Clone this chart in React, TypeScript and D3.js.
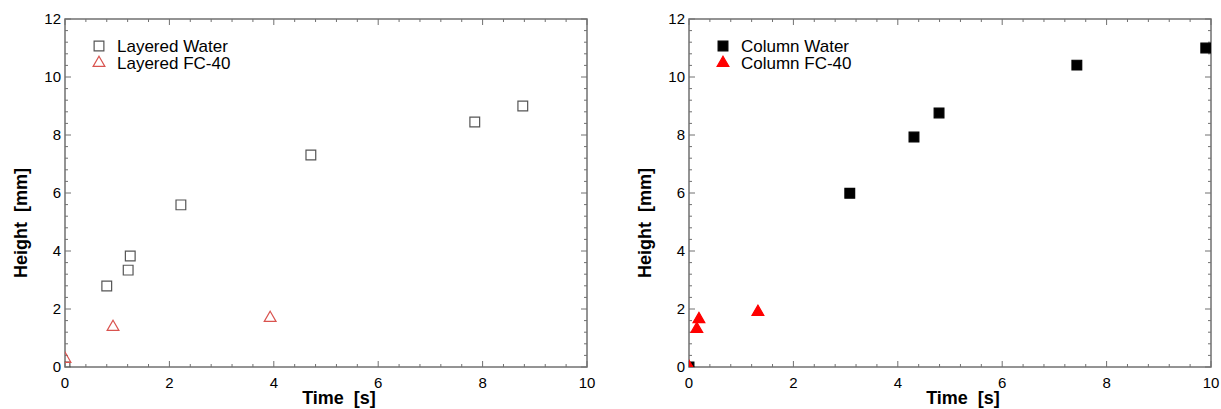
import React from 'react'
import * as d3 from 'd3'

// Layered
const layeredWaterTime = [0, 0.8, 1.21, 1.25, 2.22, 4.71, 7.85, 8.77]
const layeredWaterHeight = [0, 2.79, 3.34, 3.83, 5.59, 7.31, 8.45, 9.0]
const layeredFcTime = [0, 0.92, 3.93]
const layeredFcHeight = [0.28, 1.38, 1.69]

// Column
const columnWaterTime = [0, 3.08, 4.31, 4.79, 7.43, 9.9]
const columnWaterHeight = [0, 5.99, 7.93, 8.76, 10.41, 11.0]
const columnFcTime = [0, 0.15, 0.19, 1.32]
const columnFcHeight = [0, 1.31, 1.65, 1.9]

const xTicks = [0, 2, 4, 6, 8, 10]
const yTicks = [0, 2, 4, 6, 8, 10, 12]

const W = 1221,
  H = 409
const plotW = 522,
  top = 19,
  bottom = 367
const font = 'Arial, "Liberation Sans", sans-serif'
const frameColor = '#707070'

const zip = (xs, ys) => xs.map((x, i) => ({ x, y: ys[i] }))

const Panel = ({ left, id, series, legend }) => {
  const x = d3.scaleLinear().domain([0, 10]).range([left, left + plotW])
  const y = d3.scaleLinear().domain([0, 12]).range([bottom, top])
  const minorX = d3.range(0, 10.001, 0.4)
  const minorY = d3.range(0, 12.001, 0.4)
  const sq = d3.symbol().type(d3.symbolSquare).size(95)()
  const tri = d3.symbol().type(d3.symbolTriangle).size(60)()

  const marker = (s, key, tx, ty) => (
    <path
      key={key}
      d={s.shape === 'square' ? sq : tri}
      transform={`translate(${tx},${ty})`}
      fill={s.fill}
      stroke={s.stroke}
      strokeWidth={1.2}
    />
  )

  return (
    <g>
      <defs>
        <clipPath id={id}>
          <rect x={left} y={top} width={plotW} height={bottom - top} />
        </clipPath>
      </defs>

      {/* ticks, all four sides, pointing inward */}
      <g stroke={frameColor} strokeWidth={1}>
        {minorX.map((d, i) => {
          const len = i % 5 === 0 ? 6 : 3
          return (
            <g key={'x' + i}>
              <line x1={x(d)} x2={x(d)} y1={bottom} y2={bottom - len} />
              <line x1={x(d)} x2={x(d)} y1={top} y2={top + len} />
            </g>
          )
        })}
        {minorY.map((d, i) => {
          const len = i % 5 === 0 ? 6 : 3
          return (
            <g key={'y' + i}>
              <line x1={left} x2={left + len} y1={y(d)} y2={y(d)} />
              <line x1={left + plotW} x2={left + plotW - len} y1={y(d)} y2={y(d)} />
            </g>
          )
        })}
      </g>
      <rect
        x={left}
        y={top}
        width={plotW}
        height={bottom - top}
        fill='none'
        stroke={frameColor}
        strokeWidth={1.5}
      />

      <g fontFamily={font} fontSize={15} fill='#000'>
        {xTicks.map(d => (
          <text key={d} x={x(d)} y={388} textAnchor='middle'>
            {d}
          </text>
        ))}
        {yTicks.map(d => (
          <text key={d} x={left - 4} y={y(d) + 5} textAnchor='end'>
            {d}
          </text>
        ))}
      </g>

      <text
        x={x(5) + 13}
        y={404}
        textAnchor='middle'
        fontFamily={font}
        fontWeight='bold'
        fontSize={18}
        style={{ whiteSpace: 'pre' }}>
        {'Time  [s]'}
      </text>
      <text
        transform={`translate(${left - 38},223) rotate(-90)`}
        textAnchor='middle'
        fontFamily={font}
        fontWeight='bold'
        fontSize={18}
        style={{ whiteSpace: 'pre' }}>
        {'Height  [mm]'}
      </text>

      <g clipPath={`url(#${id})`}>
        {series.map((s, si) =>
          s.points.map((p, pi) => marker(s, `${si}-${pi}`, x(p.x), y(p.y)))
        )}
      </g>

      <g fontFamily={font} fontSize={17}>
        {series.map((s, si) => (
          <g key={si}>
            {marker(s, 'l' + si, left + 34, 46 + si * 17)}
            <text x={left + 52} y={52 + si * 17}>
              {legend[si]}
            </text>
          </g>
        ))}
      </g>
    </g>
  )
}

export default function App() {
  const layered = [
    { shape: 'square', fill: 'none', stroke: '#555', points: zip(layeredWaterTime, layeredWaterHeight) },
    { shape: 'triangle', fill: 'none', stroke: '#d9534f', points: zip(layeredFcTime, layeredFcHeight) }
  ]
  const column = [
    { shape: 'square', fill: '#000', stroke: '#000', points: zip(columnWaterTime, columnWaterHeight) },
    { shape: 'triangle', fill: '#ff0000', stroke: '#ff0000', points: zip(columnFcTime, columnFcHeight) }
  ]
  return (
    <svg width={W} height={H} style={{ position: 'absolute', left: 0, top: 0 }}>
      <rect width={W} height={H} fill='#fff' />
      <Panel left={65} id='clipL' series={layered} legend={['Layered Water', 'Layered FC-40']} />
      <Panel left={689} id='clipR' series={column} legend={['Column Water', 'Column FC-40']} />
    </svg>
  )
}
